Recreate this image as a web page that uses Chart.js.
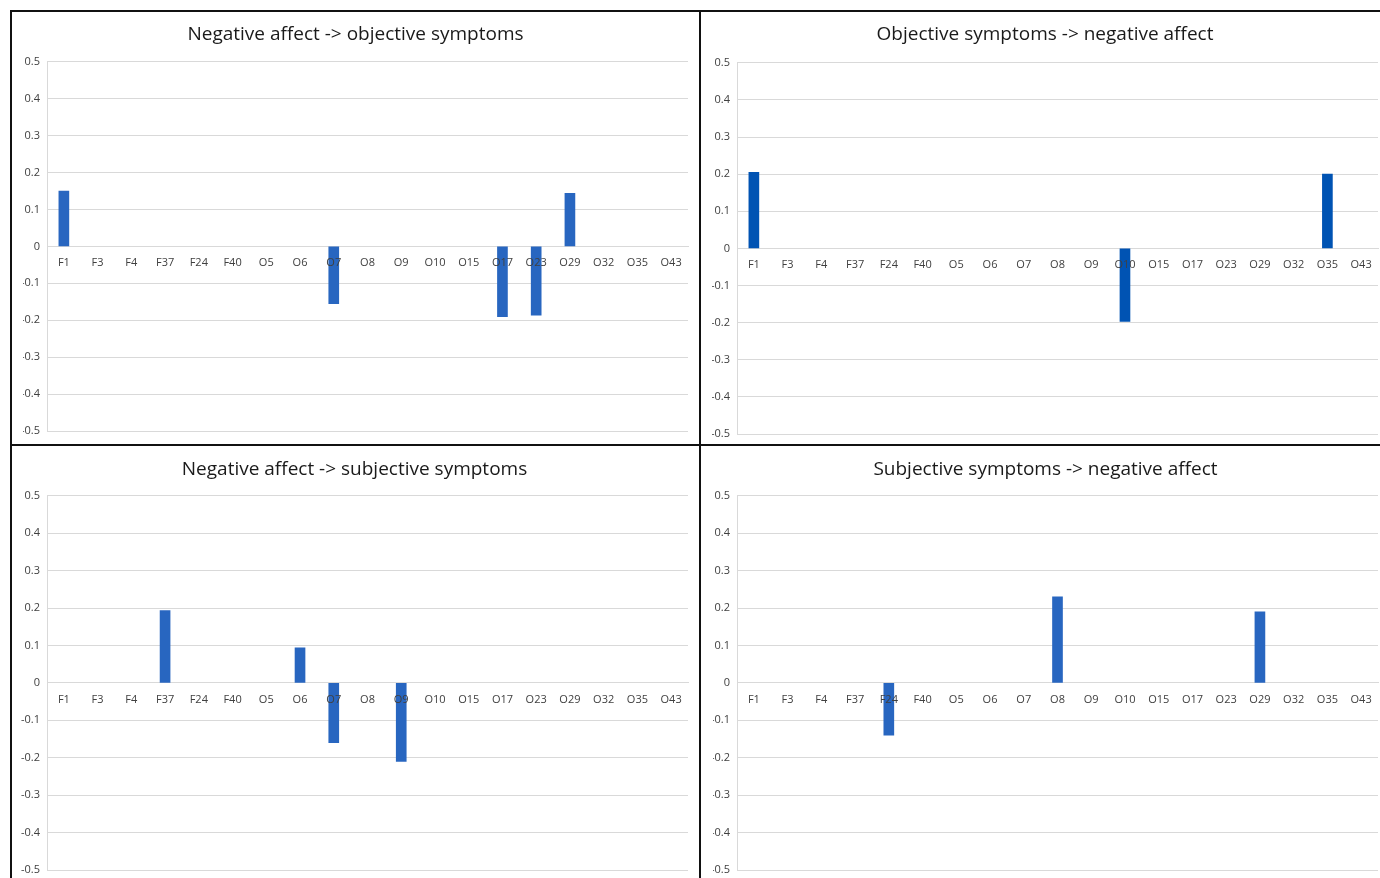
<!DOCTYPE html>
<html>
<head>
<meta charset="utf-8">
<script src="https://cdn.jsdelivr.net/npm/chart.js@4.4.1/dist/chart.umd.min.js"></script>
<style>
  body{margin:0;background:#fff;}
  #wrap{position:relative;width:1380px;height:878px;overflow:hidden;background:#fff;}
  canvas{position:absolute;}
  .ln{position:absolute;background:#111;}
</style>
</head>
<body>
<div id="wrap">
  <canvas id="c1" width="688" height="433" style="left:12px;top:12px"></canvas>
  <canvas id="c2" width="678" height="433" style="left:702px;top:12px"></canvas>
  <canvas id="c3" width="688" height="431" style="left:12px;top:447px"></canvas>
  <canvas id="c4" width="678" height="431" style="left:702px;top:447px"></canvas>
  <div class="ln" style="left:10px;top:10px;width:2px;height:868px"></div>
  <div class="ln" style="left:699px;top:10px;width:2px;height:868px"></div>
  <div class="ln" style="left:10px;top:10px;width:1370px;height:2px"></div>
  <div class="ln" style="left:10px;top:444px;width:1370px;height:2px"></div>
</div>
<script>
// shared categories for all four panels
const categories = ['F1','F3','F4','F37','F24','F40','O5','O6','O7','O8','O9','O10','O15','O17','O23','O29','O32','O35','O43'];
const yTicks = [0.5,0.4,0.3,0.2,0.1,0,-0.1,-0.2,-0.3,-0.4,-0.5];

const titles = [
  'Negative affect -> objective symptoms',
  'Objective symptoms -> negative affect',
  'Negative affect -> subjective symptoms',
  'Subjective symptoms -> negative affect'
];

//            F1    F3 F4 F37   F24   F40 O5 O6    O7     O8   O9    O10    O15 O17    O23    O29   O32 O35  O43
const negObj = [0.15, 0, 0, 0,    0,    0, 0, 0,    -0.155, 0,   0,    0,     0, -0.19, -0.186, 0.144, 0, 0,   0];
const objNeg = [0.205,0, 0, 0,    0,    0, 0, 0,    0,      0,   0,    -0.197,0, 0,     0,      0,     0, 0.2, 0];
const negSub = [0,    0, 0, 0.193,0,    0, 0, 0.094,-0.16,  0,   -0.21,0,     0, 0,     0,      0,     0, 0,   0];
const subNeg = [0,    0, 0, 0,    -0.14,0, 0, 0,    0,      0.23,0,    0,     0, 0,     0,      0.19,  0, 0,   0];

function fmt(v){
  const r = Math.round(v*10)/10;
  return r === 0 ? '0' : r.toFixed(1);
}

function makeChart(id, title, vals, color, pad){
  const ctx = document.getElementById(id).getContext('2d');
  return new Chart(ctx, {
    type: 'bar',
    data: { labels: categories, datasets: [{ data: vals.map(v => v === 0 ? null : v), backgroundColor: color, barThickness: 10 }] },
    options: {
      responsive: false,
      animation: false,
      layout: { padding: { left: pad.left, right: pad.right, top: 0, bottom: pad.bottom } },
      plugins: {
        legend: { display: false },
        tooltip: { enabled: false },
        title: { display: true, text: title, color: '#1a1a1a',
          font: { family: 'Open Sans', size: 19, weight: 'normal' }, padding: { top: 11, bottom: pad.titleBottom } }
      },
      scales: {
        x: {
          position: { y: 0 },
          grid: { display: false },
          border: { display: true, color: '#d9d9d9' },
          ticks: { z: 1, color: '#404040', font: { family: 'Open Sans', size: 11 }, padding: 2, maxRotation: 0, autoSkip: false }
        },
        y: {
          min: -0.5, max: 0.5,
          afterBuildTicks: s => { s.ticks = yTicks.map(v => ({ value: v })); },
          afterFit: s => { s.width = 35 - pad.left; s.paddingTop = 0; s.paddingBottom = 0; },
          grid: { color: '#d9d9d9', drawTicks: false },
          border: { display: true, color: '#d9d9d9' },
          ticks: { color: '#404040', font: { family: 'Open Sans', size: 11 }, padding: 7, callback: v => fmt(v) }
        }
      }
    }
  });
}

const blue = '#2866c0';
makeChart('c1', titles[0], negObj, blue, { left: 11, right: 12, bottom: 14, titleBottom: 16 });
makeChart('c2', titles[1], objNeg, '#0053b3', { left: 10, right: 2, bottom: 11, titleBottom: 17 });
makeChart('c3', titles[2], negSub, blue, { left: 9, right: 12, bottom: 8, titleBottom: 15 });
makeChart('c4', titles[3], subNeg, blue, { left: 11, right: 2, bottom: 8, titleBottom: 15 });
</script>
</body>
</html>
